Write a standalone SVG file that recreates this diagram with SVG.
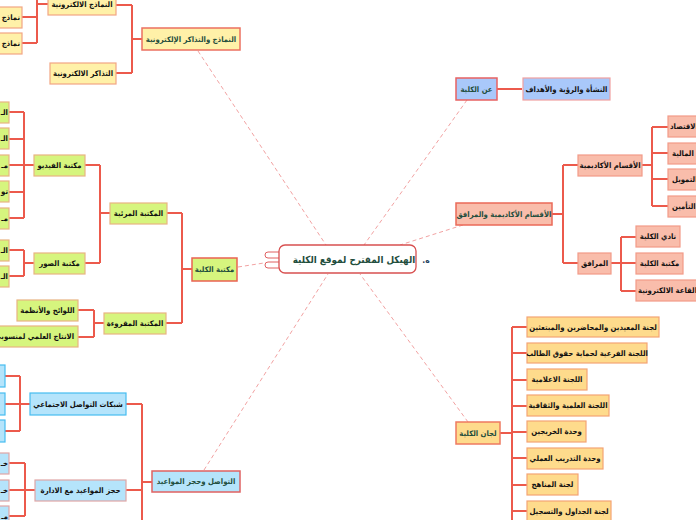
<svg xmlns="http://www.w3.org/2000/svg" width="696" height="520" viewBox="0 0 696 520">
<style>
text{font-family:"DejaVu Sans Condensed","DejaVu Sans",sans-serif;font-weight:bold;font-size:7.7px;fill:#111;dominant-baseline:central}
.m{text-anchor:middle}
.e{text-anchor:end}
.s{text-anchor:start}
.t1{fill:#1f4e3d}
.c{fill:none;stroke:#ec5a4c;stroke-width:2}
.d{fill:none;stroke:#f2a2a2;stroke-width:1;stroke-dasharray:4 3}
.yl{fill:#fff1a8;stroke:#f2a684;stroke-width:1.2}
.yl1{fill:#fff1a8;stroke:#ec7060;stroke-width:1.5}
.gr{fill:#d6f57e;stroke:#e8b482;stroke-width:1.2}
.gr1{fill:#d6f57e;stroke:#ea6252;stroke-width:1.5}
.bl{fill:#b5e4fb;stroke:#e0a6a6;stroke-width:1.2}
.blc{fill:#b5e4fb;stroke:#46bdf0;stroke-width:1.2}
.bl1{fill:#b5e4fb;stroke:#e06262;stroke-width:1.5}
.pb{fill:#a9c8fa;stroke:#f0a0a0;stroke-width:1.2}
.pb1{fill:#a9c8fa;stroke:#e86262;stroke-width:1.5}
.sa{fill:#f9bdab;stroke:#f29a88;stroke-width:1.2}
.sa1{fill:#f9bdab;stroke:#ea6a58;stroke-width:1.5}
.or{fill:#fedb8c;stroke:#f4a474;stroke-width:1.2}
.or1{fill:#fedb8c;stroke:#ee7a60;stroke-width:1.5}
</style>
<rect width="696" height="520" fill="#fff"/>
<g id="connectors">
<path class="d" d="M198 51 L326 245"/>
<path class="d" d="M467 100 L364 245"/>
<path class="d" d="M463 225 L400 245"/>
<path class="d" d="M238 267 L264 263"/>
<path class="d" d="M204 470 L328 274"/>
<path class="d" d="M468 422 L360 274"/>
<path class="c" d="M142 39 H132 M132 5 V73 M132 5 H116 M132 73 H116"/>
<path class="c" d="M48 4 H37 M37 -10 V43 M37 17 H22 M37 43 H22"/>
<path class="c" d="M192 269 H182 M182 213 V323 M182 213 H167 M182 323 H166"/>
<path class="c" d="M110 213 H100 M100 165 V263 M100 165 H85 M100 263 H85"/>
<path class="c" d="M34 165 H24 M24 112 V218 M24 112 H9 M24 139 H9 M24 165 H9 M24 192 H9 M24 218 H9"/>
<path class="c" d="M34 263 H24 M24 250 V276 M24 250 H9 M24 276 H9"/>
<path class="c" d="M104 323 H94 M94 310 V337 M94 310 H78 M94 337 H78"/>
<path class="c" d="M152 482 H142 M142 404 V530 M142 404 H126 M142 490 H126"/>
<path class="c" d="M30 404 H20 M20 376 V431 M20 376 H5 M20 404 H5 M20 431 H5"/>
<path class="c" d="M35 490 H25 M25 463 V516 M25 463 H9 M25 490 H9 M25 516 H9"/>
<path class="c" d="M497 89 H522"/>
<path class="c" d="M552 214 H563 M563 165 V263 M563 165 H578 M563 263 H578"/>
<path class="c" d="M642 165 H652 M652 127 V206 M652 127 H668 M652 153 H668 M652 179 H668 M652 206 H668"/>
<path class="c" d="M611 263 H621 M621 237 V291 M621 237 H636 M621 263 H636 M621 291 H636"/>
<path class="c" d="M500 433 H512 M512 327 V530 M512 327 H527 M512 353 H527 M512 380 H527 M512 406 H527 M512 432 H527 M512 458 H527 M512 485 H527 M512 511 H527"/>
</g>
<g id="center">
<rect x="265" y="252" width="17" height="6" rx="3" fill="#fff" stroke="#e06060" stroke-width="1"/>
<rect x="265" y="262" width="17" height="6" rx="3" fill="#fff" stroke="#e06060" stroke-width="1"/>
<rect x="279" y="245" width="137" height="28" rx="6" fill="#fff" stroke="#d85050" stroke-width="1.3"/>
<text class="m t1" x="354" y="259" style="font-size:9.8px">الهيكل المقترح لموقع الكلية</text>
<text class="m" x="426" y="260" style="font-size:8.5px;fill:#1f3e5d">.ه</text>
</g>
<g id="forms">
<rect class="yl1" x="142" y="28" width="98" height="22"/>
<text class="m t1" x="191" y="39">النماذج والتذاكر الإلكترونية</text>
<rect class="yl" x="48" y="-6" width="68" height="21"/>
<text class="m" x="82" y="4">النماذج الالكترونية</text>
<rect class="yl" x="50" y="63" width="66" height="21"/>
<text class="m" x="83" y="73">التذاكر الالكترونية</text>
<rect class="yl" x="-40" y="7" width="62" height="21"/>
<text class="e" x="20" y="17">نماذج</text>
<rect class="yl" x="-40" y="33" width="62" height="21"/>
<text class="e" x="20" y="43">نماذج</text>
</g>
<g id="library">
<rect class="gr1" x="192" y="258" width="45" height="23"/>
<text class="m t1" x="214.5" y="269.5">مكتبة الكلية</text>
<rect class="gr" x="110" y="203" width="57" height="21"/>
<text class="m" x="138.5" y="213.5">المكتبة المرئية</text>
<rect class="gr" x="104" y="313" width="62" height="21"/>
<text class="m" x="135" y="323.5">المكتبة المقروءة</text>
<rect class="gr" x="34" y="155" width="51" height="21"/>
<text class="m" x="59.5" y="165.5">مكتبة الفيديو</text>
<rect class="gr" x="34" y="253" width="51" height="21"/>
<text class="m" x="59.5" y="263.5">مكتبة الصور</text>
<rect class="gr" x="17" y="300" width="61" height="21"/>
<text class="m" x="47.5" y="310.5">اللوائح والأنظمة</text>
<rect class="gr" x="-30" y="326" width="108" height="21"/>
<text class="e" x="74" y="336.5">الانتاج العلمي لمنسوبي</text>
<rect class="gr" x="-40" y="102" width="49" height="21"/>
<text class="e" x="8" y="112.5">الـ</text>
<rect class="gr" x="-40" y="128" width="49" height="21"/>
<text class="e" x="8" y="138.5">الـ</text>
<rect class="gr" x="-40" y="155" width="49" height="21"/>
<text class="e" x="8" y="165.5">مـ</text>
<rect class="gr" x="-40" y="181" width="49" height="21"/>
<text class="e" x="8" y="191.5">تو</text>
<rect class="gr" x="-40" y="208" width="49" height="21"/>
<text class="e" x="8" y="218.5">مـ</text>
<rect class="gr" x="-40" y="240" width="49" height="21"/>
<text class="e" x="8" y="250.5">الـ</text>
<rect class="gr" x="-40" y="266" width="49" height="21"/>
<text class="e" x="8" y="276.5">الـ</text>
</g>
<g id="communication">
<rect class="bl1" x="152" y="471" width="88" height="21"/>
<text class="m t1" x="196" y="481.5">التواصل وحجز المواعيد</text>
<rect class="blc" x="30" y="393" width="96" height="22"/>
<text class="m" x="78" y="404">شبكات التواصل الاجتماعي</text>
<rect class="bl" x="35" y="480" width="91" height="21"/>
<text class="m" x="80.5" y="490.5">حجز المواعيد مع الادارة</text>
<rect class="blc" x="-40" y="365" width="45" height="22"/>
<rect class="blc" x="-40" y="393" width="45" height="22"/>
<rect class="blc" x="-40" y="420" width="45" height="22"/>
<rect class="bl" x="-40" y="453" width="49" height="21"/>
<text class="e" x="8" y="463.5">خـ</text>
<rect class="bl" x="-40" y="480" width="49" height="21"/>
<text class="e" x="8" y="490.5">خـ</text>
<rect class="bl" x="-40" y="506" width="49" height="21"/>
<text class="e" x="8" y="516.5">مـ</text>
</g>
<g id="about">
<rect class="pb1" x="456" y="78" width="41" height="22"/>
<text class="m t1" x="476.5" y="89">عن الكلية</text>
<rect class="pb" x="523" y="78" width="87" height="22"/>
<text class="m" x="566.5" y="89">النشأة والرؤية والأهداف</text>
</g>
<g id="departments">
<rect class="sa1" x="456" y="203" width="96" height="22"/>
<text class="m t1" x="504" y="214">الأقسام الأكاديمية والمرافق</text>
<rect class="sa" x="578" y="155" width="64" height="21"/>
<text class="m" x="610" y="165.5">الأقسام الأكاديمية</text>
<rect class="sa" x="578" y="253" width="33" height="21"/>
<text class="m" x="594.5" y="263.5">المرافق</text>
<rect class="sa" x="668" y="116" width="60" height="21"/>
<text class="s" x="670" y="126.5">الاقتصاد</text>
<rect class="sa" x="668" y="143" width="60" height="21"/>
<text class="s" x="672" y="153.5">المالية</text>
<rect class="sa" x="668" y="169" width="60" height="21"/>
<text class="s" x="672" y="179.5">التمويل</text>
<rect class="sa" x="668" y="196" width="60" height="21"/>
<text class="s" x="672" y="206.5">التأمين</text>
<rect class="sa" x="636" y="226" width="44" height="21"/>
<text class="m" x="658" y="236.5">نادي الكلية</text>
<rect class="sa" x="636" y="253" width="47" height="21"/>
<text class="m" x="659.5" y="263.5">مكتبة الكلية</text>
<rect class="sa" x="636" y="280" width="80" height="21"/>
<text class="s" x="638" y="290.5">القاعة الالكترونية</text>
</g>
<g id="committees">
<rect class="or1" x="456" y="422" width="44" height="22"/>
<text class="m t1" x="478" y="433">لجان الكلية</text>
<rect class="or" x="527" y="317" width="132" height="20"/>
<text class="m" x="593" y="327">لجنة المعيدين والمحاضرين والمبتعثين</text>
<rect class="or" x="527" y="343" width="120" height="20"/>
<text class="m" x="587" y="353">اللجنة الفرعية لحماية حقوق الطالب</text>
<rect class="or" x="527" y="369" width="60" height="21"/>
<text class="m" x="557" y="379.5">اللجنة الاعلامية</text>
<rect class="or" x="527" y="395" width="82" height="21"/>
<text class="m" x="568" y="405.5">اللجنة العلمية والثقافية</text>
<rect class="or" x="527" y="421" width="59" height="21"/>
<text class="m" x="556.5" y="431.5">وحدة الخريجين</text>
<rect class="or" x="527" y="448" width="76" height="21"/>
<text class="m" x="565" y="458.5">وحدة التدريب العملي</text>
<rect class="or" x="527" y="474" width="51" height="21"/>
<text class="m" x="552.5" y="484.5">لجنة المناهج</text>
<rect class="or" x="527" y="501" width="84" height="21"/>
<text class="m" x="569" y="511.5">لجنة الجداول والتسجيل</text>
</g>
</svg>
